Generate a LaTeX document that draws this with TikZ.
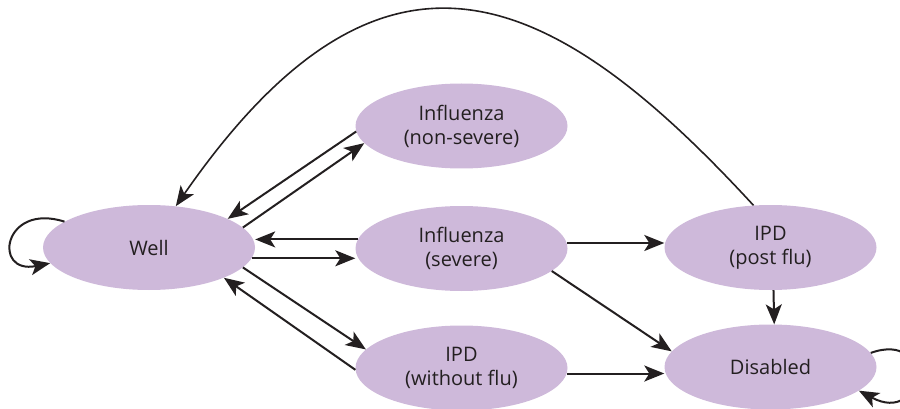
\documentclass[tikz,border=0pt]{standalone}
\usepackage{fontspec}
\setmainfont{Open Sans}
\usetikzlibrary{shapes.geometric,arrows.meta}
\definecolor{statefill}{RGB}{206,185,218}
\definecolor{ink}{RGB}{35,31,32}
\begin{document}
\begin{tikzpicture}[x=1pt,y=-1pt,
  state/.style={ellipse, fill=statefill, minimum width=212pt, minimum height=85pt,
    inner sep=0pt, align=center, font=\fontsize{20}{24}\selectfont, text=ink},
  arr/.style={-{Stealth[length=20pt,width=16pt,inset=5pt]}, line width=2pt, draw=ink},
  arcline/.style={-{Stealth[length=20pt,width=16pt,inset=5pt]}, line width=1.6pt, draw=ink}]
\useasboundingbox (0,0) rectangle (900,409);
\clip (0,0) rectangle (900,409);

\node[state] (well) at (149,247.5) {Well};
\node[state] (ns)   at (461.5,126) {Influenza\\(non-severe)};
\node[state] (sev)  at (461.5,248.5) {Influenza\\(severe)};
\node[state] (wo)   at (461.5,368) {IPD\\(without flu)};
\node[state] (post) at (770.5,247.5) {IPD\\(post flu)};
\node[state] (dis)  at (770.5,367) {Disabled};

% self loops
\draw[arr] (well.163) .. controls (3,202) and (-8,275) .. (well.189);
\draw[arr] (dis.8) .. controls (935,330) and (925,426) .. (dis.345);

% Well <-> Influenza (non-severe)
\draw[arr] (ns.183) -- (well.20);
\draw[arr] (well.12) -- (ns.190);

% Well <-> Influenza (severe)
\draw[arr] (sev.175.4) -- (sev.175.4 -| well.east);
\draw[arr] (well.354.8) -- (well.354.8 -| sev.west);

% Well <-> IPD (without flu)
\draw[arr] (well.348) -- (wo.169.6);
\draw[arr] (wo.181) -- (well.338.6);

% to the right
\draw[arr] (sev.3) -- (sev.3 -| post.west);
\draw[arr] (sev.346.8) -- (dis.171.5);
\draw[arr] (wo.357.8) -- (wo.357.8 -| dis.west);
\draw[arr] (post.274.7) -- (dis.85.3);

% long arc back to Well
\draw[arcline] (post.112) .. controls (549,-17) and (382,-91) .. (well.57);
\end{tikzpicture}
\end{document}
